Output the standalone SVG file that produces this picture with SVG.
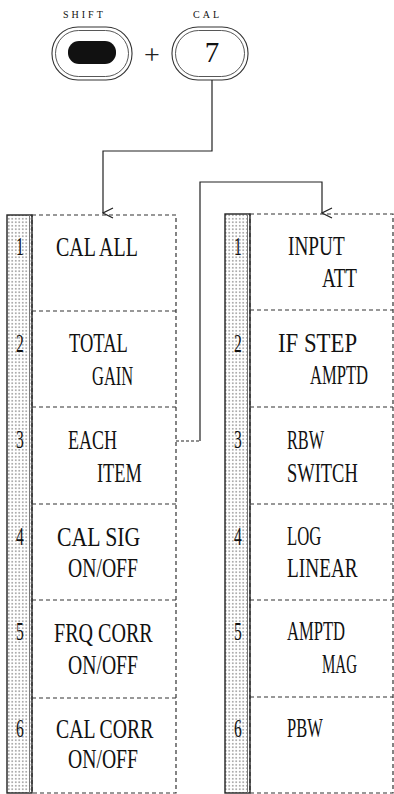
<svg xmlns="http://www.w3.org/2000/svg" width="394" height="794" viewBox="0 0 394 794">
<style>
.lbl{font-family:"Liberation Serif","Times New Roman",serif;font-size:28px;fill:#111}
.num{font-family:"Liberation Serif","Times New Roman",serif;font-size:26px;fill:#111;text-anchor:middle}
.key{font-family:"Liberation Serif","Times New Roman",serif;font-size:10px;fill:#111;letter-spacing:3px}
.box{fill:none;stroke:#333;stroke-width:1.2;stroke-dasharray:4 3}
.sep{stroke:#333;stroke-width:1.2;stroke-dasharray:4 3}
.strip{fill:url(#dots);stroke:#222;stroke-width:1.4}
.edge{stroke:#777;stroke-width:1}
.btn{fill:#fff;stroke:#333;stroke-width:1.1}
.btn2{fill:none;stroke:#444;stroke-width:0.9}
.conn{fill:none;stroke:#222;stroke-width:1.2}
</style>
<defs>
<pattern id="dots" width="3.5" height="3.5" patternUnits="userSpaceOnUse">
<rect width="3.5" height="3.5" fill="#fff"/>
<circle cx="1.75" cy="1.75" r="0.7" fill="#444"/>
</pattern>
<marker id="v" viewBox="0 0 12 12" refX="6" refY="11" markerWidth="12" markerHeight="12" markerUnits="userSpaceOnUse" orient="auto-start-reverse">
<path d="M1 1 L6 11 L11 1" fill="none" stroke="#222" stroke-width="1.2"/>
</marker>
</defs>
<rect width="394" height="794" fill="#fff"/>

<g id="shift-key">
<text class="key" x="63" y="18">SHIFT</text>
<rect class="btn" x="52" y="27" width="80" height="53" rx="26" ry="26"/>
<rect class="btn2" x="55.5" y="30.5" width="73" height="46" rx="23" ry="23"/>
<rect x="68" y="41" width="48" height="23" rx="11" ry="11" fill="#111"/>
</g>
<g id="plus">
<text x="152" y="64" text-anchor="middle" font-family="Liberation Serif, serif" font-size="28" fill="#222">+</text>
</g>
<g id="cal-key">
<text class="key" x="193" y="18">CAL</text>
<rect class="btn" x="172" y="27" width="76" height="53" rx="26" ry="26"/>
<rect class="btn2" x="175.5" y="30.5" width="69" height="46" rx="23" ry="23"/>
<text x="212" y="62" text-anchor="middle" font-family="Liberation Serif, serif" font-size="29" fill="#111">7</text>
</g>

<g id="connectors">
<polyline class="conn" points="212,80 212,151 103,151 103,213" marker-end="url(#v)"/>
<polyline class="conn" points="176,441 200,441" stroke-dasharray="3 2"/>
<polyline class="conn" points="200,441 200,182 322,182 322,213" marker-end="url(#v)"/>
</g>

<g id="menu-left">
<rect class="strip" x="7" y="215" width="25" height="578"/>
<line class="edge" x1="29.5" y1="215" x2="29.5" y2="793"/>
<rect class="box" x="32" y="215" width="144" height="578"/>
<line class="sep" x1="32" y1="311" x2="176" y2="311"/>
<line class="sep" x1="32" y1="407" x2="176" y2="407"/>
<line class="sep" x1="32" y1="504" x2="176" y2="504"/>
<line class="sep" x1="32" y1="600" x2="176" y2="600"/>
<line class="sep" x1="32" y1="698" x2="176" y2="698"/>
</g>
<g id="left-1"><text class="num" transform="translate(20,255) scale(0.6,1)">1</text><text class="lbl" transform="translate(56,256) scale(0.7,1)" textLength="117" lengthAdjust="spacingAndGlyphs">CAL ALL</text></g>
<g id="left-2"><text class="num" transform="translate(20,352) scale(0.6,1)">2</text><text class="lbl" transform="translate(69,352) scale(0.7,1)" textLength="84" lengthAdjust="spacingAndGlyphs">TOTAL</text><text class="lbl" transform="translate(92,385) scale(0.7,1)" textLength="59" lengthAdjust="spacingAndGlyphs">GAIN</text></g>
<g id="left-3"><text class="num" transform="translate(20,448) scale(0.6,1)">3</text><text class="lbl" transform="translate(68,449) scale(0.7,1)" textLength="70" lengthAdjust="spacingAndGlyphs">EACH</text><text class="lbl" transform="translate(97,482) scale(0.7,1)" textLength="64" lengthAdjust="spacingAndGlyphs">ITEM</text></g>
<g id="left-4"><text class="num" transform="translate(20,545) scale(0.6,1)">4</text><text class="lbl" transform="translate(57,546) scale(0.7,1)" textLength="119" lengthAdjust="spacingAndGlyphs">CAL SIG</text><text class="lbl" transform="translate(68,577) scale(0.7,1)" textLength="100" lengthAdjust="spacingAndGlyphs">ON/OFF</text></g>
<g id="left-5"><text class="num" transform="translate(20,640) scale(0.6,1)">5</text><text class="lbl" transform="translate(54,642) scale(0.7,1)" textLength="141" lengthAdjust="spacingAndGlyphs">FRQ CORR</text><text class="lbl" transform="translate(68,674) scale(0.7,1)" textLength="100" lengthAdjust="spacingAndGlyphs">ON/OFF</text></g>
<g id="left-6"><text class="num" transform="translate(20,737) scale(0.6,1)">6</text><text class="lbl" transform="translate(56,738) scale(0.7,1)" textLength="139" lengthAdjust="spacingAndGlyphs">CAL CORR</text><text class="lbl" transform="translate(68,768) scale(0.7,1)" textLength="100" lengthAdjust="spacingAndGlyphs">ON/OFF</text></g>

<g id="menu-right">
<rect class="strip" x="225" y="214" width="25" height="579"/>
<line class="edge" x1="247.5" y1="214" x2="247.5" y2="793"/>
<rect class="box" x="250" y="214" width="143" height="579"/>
<line class="sep" x1="250" y1="310" x2="393" y2="310"/>
<line class="sep" x1="250" y1="407" x2="393" y2="407"/>
<line class="sep" x1="250" y1="504" x2="393" y2="504"/>
<line class="sep" x1="250" y1="600" x2="393" y2="600"/>
<line class="sep" x1="250" y1="697" x2="393" y2="697"/>
</g>
<g id="right-1"><text class="num" transform="translate(238,255) scale(0.6,1)">1</text><text class="lbl" transform="translate(288,255) scale(0.7,1)" textLength="81" lengthAdjust="spacingAndGlyphs">INPUT</text><text class="lbl" transform="translate(322,287) scale(0.7,1)" textLength="50" lengthAdjust="spacingAndGlyphs">ATT</text></g>
<g id="right-2"><text class="num" transform="translate(238,352) scale(0.6,1)">2</text><text class="lbl" transform="translate(278,352) scale(0.7,1)" textLength="113" lengthAdjust="spacingAndGlyphs">IF STEP</text><text class="lbl" transform="translate(310,384) scale(0.7,1)" textLength="83" lengthAdjust="spacingAndGlyphs">AMPTD</text></g>
<g id="right-3"><text class="num" transform="translate(238,448) scale(0.6,1)">3</text><text class="lbl" transform="translate(287,449) scale(0.7,1)" textLength="53" lengthAdjust="spacingAndGlyphs">RBW</text><text class="lbl" transform="translate(287,482) scale(0.7,1)" textLength="101" lengthAdjust="spacingAndGlyphs">SWITCH</text></g>
<g id="right-4"><text class="num" transform="translate(238,545) scale(0.6,1)">4</text><text class="lbl" transform="translate(287,545) scale(0.7,1)" textLength="49" lengthAdjust="spacingAndGlyphs">LOG</text><text class="lbl" transform="translate(287,577) scale(0.7,1)" textLength="101" lengthAdjust="spacingAndGlyphs">LINEAR</text></g>
<g id="right-5"><text class="num" transform="translate(238,640) scale(0.6,1)">5</text><text class="lbl" transform="translate(287,640) scale(0.7,1)" textLength="83" lengthAdjust="spacingAndGlyphs">AMPTD</text><text class="lbl" transform="translate(322,673) scale(0.7,1)" textLength="50" lengthAdjust="spacingAndGlyphs">MAG</text></g>
<g id="right-6"><text class="num" transform="translate(238,737) scale(0.6,1)">6</text><text class="lbl" transform="translate(287,737) scale(0.7,1)" textLength="51" lengthAdjust="spacingAndGlyphs">PBW</text></g>
</svg>
